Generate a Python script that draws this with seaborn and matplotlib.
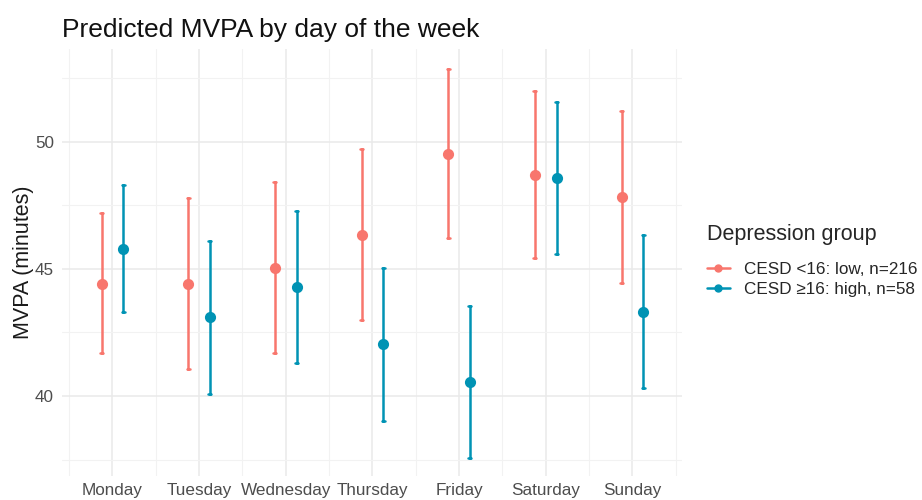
import numpy as np
import pandas as pd
import seaborn as sns
import matplotlib.pyplot as plt
from matplotlib.lines import Line2D

# Predicted MVPA (minutes) with confidence limits
days = ['Monday', 'Tuesday', 'Wednesday', 'Thursday', 'Friday', 'Saturday', 'Sunday']
groups = ['CESD <16: low, n=216', 'CESD \u226516: high, n=58']

low_est = [44.42, 44.41, 45.04, 46.35, 49.53, 48.70, 47.83]
low_lo = [41.69, 41.05, 41.68, 42.99, 46.22, 45.43, 44.45]
low_hi = [47.18, 47.77, 48.43, 49.72, 52.86, 51.97, 51.21]

high_est = [45.80, 43.10, 44.28, 42.04, 40.55, 48.58, 43.32]
high_lo = [43.31, 40.09, 41.29, 39.04, 37.55, 45.60, 40.31]
high_hi = [48.29, 46.10, 47.28, 45.03, 43.54, 51.57, 46.35]

palette = ['#F8766D', '#0093B4']

# long table: lower limit, estimate, upper limit per day/group
rows = []
for g, est, lo, hi in [(groups[0], low_est, low_lo, low_hi),
                       (groups[1], high_est, high_lo, high_hi)]:
    for d, e, l, h in zip(days, est, lo, hi):
        for v in (l, e, h):
            rows.append({'day': d, 'group': g, 'mvpa': v})
df = pd.DataFrame(rows)

sns.set_theme(style='white')
plt.rcParams['font.family'] = ['Liberation Sans', 'DejaVu Sans']

fig = plt.figure(figsize=(9.22, 5), dpi=100)
ax = fig.add_axes([0.0676, 0.048, 0.672, 0.854])

# median of (lo, est, hi) = est; full range = CI
sns.pointplot(data=df, x='day', y='mvpa', hue='group', order=days, hue_order=groups,
              palette=palette, estimator='median', errorbar=('pi', 100),
              dodge=0.25, linestyle='none', markers='o', markersize=6,
              capsize=0.035, err_kws={'linewidth': 1.8}, ax=ax, legend=False)

ax.set_xlim(-0.577, 6.57)
ax.set_ylim(36.86, 53.64)
ax.set_yticks([40, 45, 50])
ax.set_xticks(np.arange(-0.5, 7, 1), minor=True)
ax.set_yticks([37.5, 42.5, 47.5, 52.5], minor=True)
ax.grid(True, which='major', color='#EAEAEA', linewidth=1.1)
ax.grid(True, which='minor', color='#F2F2F2', linewidth=0.8)
ax.set_axisbelow(True)
for s in ax.spines.values():
    s.set_visible(False)
ax.tick_params(which='both', length=0)
ax.tick_params(axis='x', labelsize=12.3, labelcolor='#4D4D4D', pad=5)
ax.tick_params(axis='y', labelsize=12.3, labelcolor='#4D4D4D', pad=6)

ax.set_xlabel('')
ax.set_ylabel('MVPA (minutes)', fontsize=15.5, color='#1A1A1A', labelpad=0.5)
ax.set_title('Predicted MVPA by day of the week', loc='left', fontsize=19,
             color='#111111', pad=8.5)

handles = [Line2D([], [], color=c, marker='o', markersize=5, linewidth=1.8) for c in palette]
leg = fig.legend(handles, groups, title='Depression group', loc='upper left',
                 bbox_to_anchor=(0.7505, 0.583), frameon=False, fontsize=12.3,
                 title_fontsize=15.5, alignment='left', handlelength=1.3,
                 handletextpad=0.85, labelspacing=0.3)
leg._legend_box.sep = 12.5

fig.savefig('out.png', dpi=100, facecolor='white')
